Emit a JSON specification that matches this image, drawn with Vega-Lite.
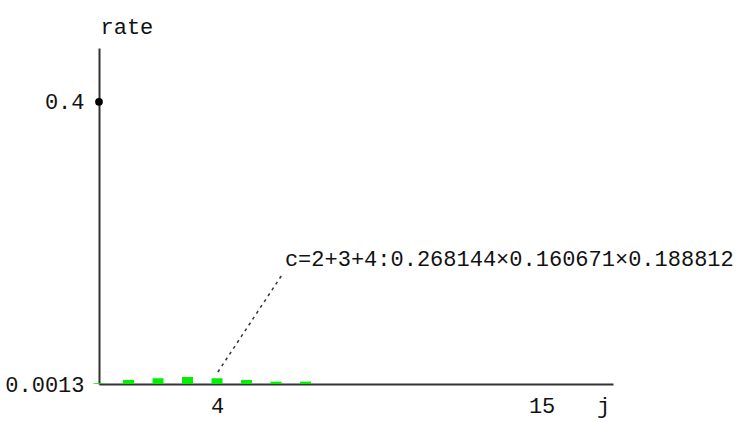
{
  "$schema": "https://vega.github.io/schema/vega-lite/v6.json",
  "width": 514,
  "height": 336,
  "autosize": "none",
  "padding": {"left": 99, "top": 48, "right": 126, "bottom": 37},
  "background": "white",
  "config": {
    "view": {"stroke": null},
    "font": "Liberation Mono",
    "text": {"font": "Liberation Mono"}
  },
  "datasets": {
    "bars": [
      {"j": 0, "rate": 0.0024},
      {"j": 1, "rate": 0.0070},
      {"j": 2, "rate": 0.0094},
      {"j": 3, "rate": 0.0112},
      {"j": 4, "rate": 0.0094},
      {"j": 5, "rate": 0.0070},
      {"j": 6, "rate": 0.0046},
      {"j": 7, "rate": 0.0046}
    ],
    "point": [{"j": 0, "rate": 0.4}],
    "leader": [
      {"j": 4.03, "rate": 0.0183},
      {"j": 6.2, "rate": 0.1554}
    ],
    "note": [{"j": 6.3, "rate": 0.178, "label": "c=2+3+4:0.268144×0.160671×0.188812"}]
  },
  "layer": [
    {
      "data": {"name": "bars"},
      "mark": {"type": "bar", "color": "#00f000", "width": 11},
      "encoding": {
        "x": {
          "field": "j", "type": "quantitative",
          "scale": {"domain": [0, 17.42], "nice": false, "zero": false, "padding": 0},
          "axis": {
            "values": [4, 15], "ticks": false, "grid": false,
            "domainColor": "#333", "domainWidth": 2,
            "labelFont": "Liberation Mono", "labelFontSize": 22, "labelColor": "#111",
            "labelPadding": 11,
            "title": "j", "titleFont": "Liberation Mono", "titleFontSize": 22,
            "titleFontWeight": "normal", "titleColor": "#111",
            "titleX": 504, "titleY": 11, "titleAlign": "center", "titleBaseline": "top"
          }
        },
        "y": {
          "field": "rate", "type": "quantitative",
          "scale": {"domain": [0.0013, 0.476], "nice": false, "zero": false, "padding": 0},
          "axis": {
            "values": [0.0013, 0.4], "ticks": false, "grid": false,
            "format": "~g",
            "domainColor": "#333", "domainWidth": 2,
            "labelFont": "Liberation Mono", "labelFontSize": 22, "labelColor": "#111",
            "labelPadding": 15,
            "title": "rate", "titleFont": "Liberation Mono", "titleFontSize": 22,
            "titleFontWeight": "normal", "titleColor": "#111", "titleAngle": 0,
            "titleX": 1, "titleY": -22, "titleAlign": "left", "titleBaseline": "middle"
          }
        },
        "y2": {"datum": 0.0013}
      }
    },
    {
      "data": {"name": "leader"},
      "mark": {"type": "line", "color": "#333", "strokeWidth": 1.5, "strokeDash": [3, 4]},
      "encoding": {
        "x": {"field": "j", "type": "quantitative"},
        "y": {"field": "rate", "type": "quantitative"}
      }
    },
    {
      "data": {"name": "point"},
      "mark": {"type": "point", "filled": true, "color": "#000", "size": 60, "opacity": 1},
      "encoding": {
        "x": {"field": "j", "type": "quantitative"},
        "y": {"field": "rate", "type": "quantitative"}
      }
    },
    {
      "data": {"name": "note"},
      "mark": {"type": "text", "align": "left", "baseline": "middle", "font": "Liberation Mono", "fontSize": 22, "color": "#111"},
      "encoding": {
        "x": {"field": "j", "type": "quantitative"},
        "y": {"field": "rate", "type": "quantitative"},
        "text": {"field": "label"}
      }
    }
  ]
}
